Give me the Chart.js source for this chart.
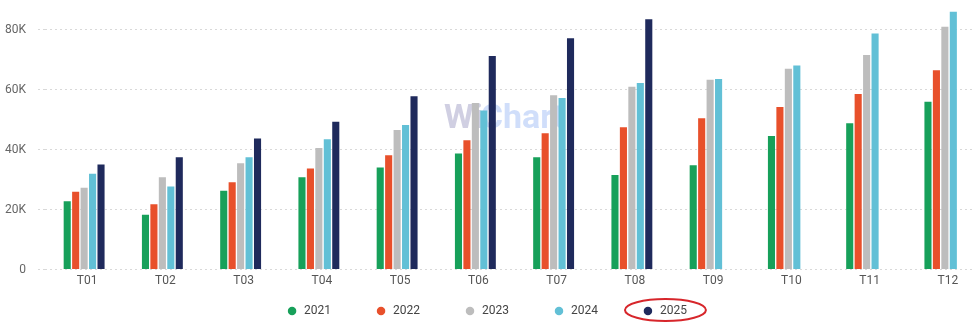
<!DOCTYPE html>
<html>
<head>
<meta charset="utf-8">
<script src="https://cdn.jsdelivr.net/npm/chart.js@4.4.1/dist/chart.umd.min.js"></script>
<style>
  html, body { margin: 0; padding: 0; background: #fff; overflow: hidden; }
  #wrap { width: 984px; height: 329px; position: relative; }
</style>
</head>
<body>
<div id="wrap"><canvas id="bars"></canvas></div>
<script>
const months = ['T01', 'T02', 'T03', 'T04', 'T05', 'T06', 'T07', 'T08', 'T09', 'T10', 'T11', 'T12'];

const y2021 = [22800, 18300, 26300, 30800, 34000, 38700, 37400, 31500, 34800, 44500, 48800, 55900];
const y2022 = [25900, 21800, 29100, 33700, 38100, 43100, 45400, 47400, 50400, 54200, 58500, 66400];
const y2023 = [27300, 30800, 35400, 40500, 46500, 55500, 58100, 60900, 63300, 66900, 71500, 80900];
const y2024 = [31900, 27700, 37400, 43400, 48200, 53000, 57200, 62200, 63500, 68000, 78700, 85900];
const y2025 = [35000, 37400, 43700, 49300, 57800, 71200, 77100, 83400, null, null, null, null];

const yTicks = [0, 20000, 40000, 60000, 80000];

const ctx = document.getElementById('bars');

// watermark behind the bars
const watermark = {
  id: 'watermark',
  beforeDatasetsDraw(chart) {
    const c = chart.ctx;
    const y0 = chart.scales.y.getPixelForValue(0);
    const x = chart.chartArea.left + 399, y = y0 - 142;
    c.save();
    c.font = 'bold 34px Roboto';
    c.textBaseline = 'alphabetic';
    c.fillStyle = 'rgba(150, 148, 190, 0.45)';
    c.fillText('Wi', x, y);
    const w = c.measureText('Wi').width;
    c.fillStyle = 'rgba(120, 160, 240, 0.35)';
    c.fillText('Chart', x + w - 2, y);
    c.restore();
  }
};

// push legend items down, and ring the 2025 item
const legendTweak = {
  id: 'legendTweak',
  afterLayout(chart) {
    const lg = chart.legend;
    const pad = lg.options.labels.padding;
    lg.top = chart.height - 24 - pad;
    lg.bottom = chart.height;
    lg.height = lg.bottom - lg.top;
    lg.left -= 8;
    lg.right -= 8;
  },
  afterDraw(chart) {
    const hb = chart.legend.legendHitBoxes[4];
    if (!hb) return;
    const c = chart.ctx;
    c.save();
    c.strokeStyle = '#d7262b';
    c.lineWidth = 2;
    c.beginPath();
    c.ellipse(hb.left + hb.width / 2 + 1, hb.top + hb.height / 2 - 1, hb.width / 2 + 18, 11, 0, 0, Math.PI * 2);
    c.stroke();
    c.restore();
  }
};

new Chart(ctx, {
  type: 'bar',
  data: {
    labels: months,
    datasets: [
      { label: '2021', data: y2021, backgroundColor: '#17a05a' },
      { label: '2022', data: y2022, backgroundColor: '#e8502b' },
      { label: '2023', data: y2023, backgroundColor: '#bdbdbd' },
      { label: '2024', data: y2024, backgroundColor: '#62c0d6' },
      { label: '2025', data: y2025, backgroundColor: '#1f2a5c' }
    ]
  },
  options: {
    responsive: true,
    maintainAspectRatio: false,
    animation: false,
    categoryPercentage: 0.54,
    barPercentage: 0.84,
    layout: { padding: { left: 5, top: 7, right: 0, bottom: 0 } },
    scales: {
      x: {
        grid: { display: false, drawTicks: false },
        border: { display: false },
        ticks: { color: '#555', padding: 4, labelOffset: 3, font: { family: 'Roboto', size: 12 } }
      },
      y: {
        min: 0,
        max: 87500,
        afterBuildTicks(axis) {
          axis.ticks = yTicks.map(v => ({ value: v }));
        },
        afterFit(axis) {
          axis.width = 40;
          axis.paddingTop = 0;
          axis.paddingBottom = 0;
        },
        grid: { color: '#d9d9d9', drawTicks: true, tickLength: 7, tickColor: '#d9d9d9', tickBorderDash: [2, 3] },
        border: { display: false, dash: [2, 3] },
        ticks: {
          color: '#666',
          padding: 12,
          font: { family: 'Roboto', size: 12 },
          callback: v => v === 0 ? '0' : (v / 1000) + 'K'
        }
      }
    },
    plugins: {
      legend: {
        position: 'bottom',
        maxHeight: 37,
        labels: {
          usePointStyle: true,
          pointStyle: 'circle',
          boxWidth: 12,
          boxHeight: 6,
          padding: 44,
          color: '#444',
          font: { family: 'Roboto', size: 12 }
        }
      },
      tooltip: { enabled: false }
    }
  },
  plugins: [watermark, legendTweak]
});
</script>
</body>
</html>
